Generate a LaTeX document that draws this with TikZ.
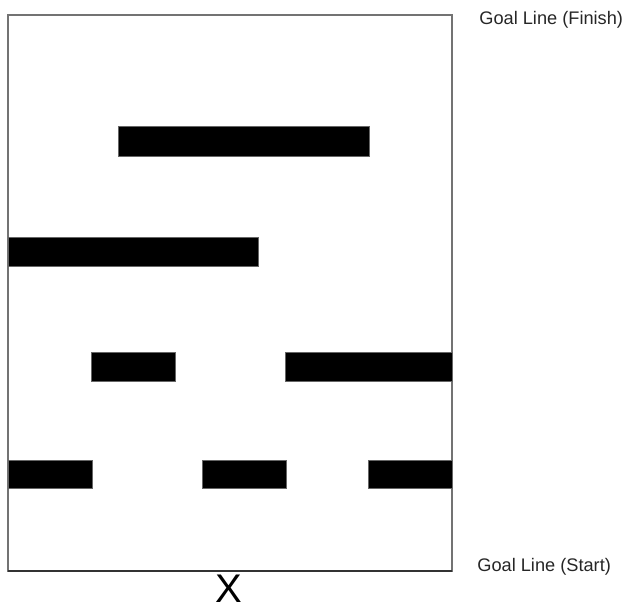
\documentclass[tikz,border=0pt]{standalone}
\usepackage{fontspec}
\setmainfont{Liberation Sans}
\begin{document}
\begin{tikzpicture}[x=0.5pt,y=-0.5pt,
  bar/.style={fill=black,draw=black!60,line width=0.3pt},
  frame/.style={draw=black!55,line width=0.9pt},
  label/.style={anchor=base west,inner sep=0pt,font=\fontsize{9.1}{11}\selectfont,text=black!85}]
\useasboundingbox (0,0) rectangle (629,608);
\draw[frame] (8,15) rectangle (452,571);
\draw[draw=black!80,line width=0.7pt] (8,571) -- (452,571);
\path[bar] (118,126) rectangle (369,156);
\path[bar] (8,237) rectangle (258,266);
\path[bar] (91,352) rectangle (175,381);
\path[bar] (285,352) rectangle (452,381);
\path[bar] (8,460) rectangle (92,488);
\path[bar] (202,460) rectangle (286,488);
\path[bar] (368,460) rectangle (452,488);
\node[label] (finish) at (479,25) {Goal Line (Finish)};
\node[label] (start) at (477,572) {Goal Line (Start)};
\node[anchor=base,inner sep=0pt,font=\fontsize{20}{24}\selectfont] (x) at (229,603) {X};
\end{tikzpicture}
\end{document}
